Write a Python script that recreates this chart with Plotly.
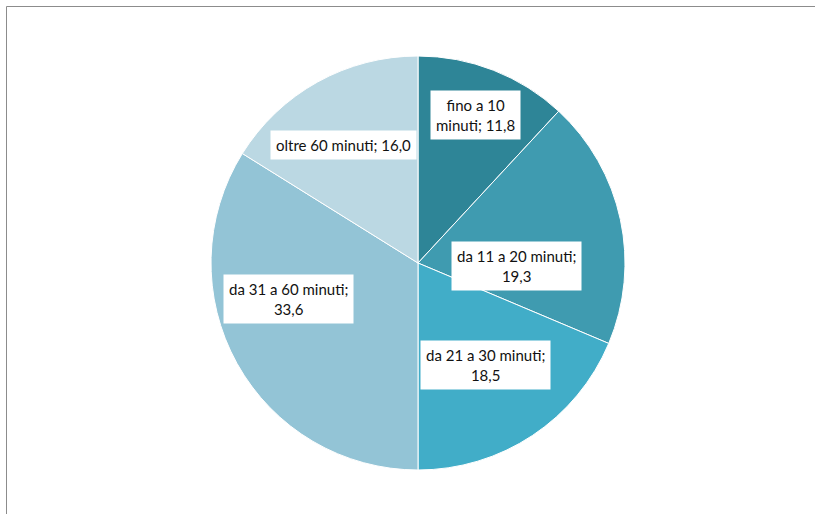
import math
import plotly.graph_objects as go

# Commuting time shares (%)
categories = ["fino a 10 minuti", "da 11 a 20 minuti", "da 21 a 30 minuti",
              "da 31 a 60 minuti", "oltre 60 minuti"]
values = [11.8, 19.3, 18.5, 33.6, 16.0]
label_texts = ["fino a 10<br>minuti; 11,8", "da 11 a 20 minuti;<br>19,3",
               "da 21 a 30 minuti;<br>18,5", "da 31 a 60 minuti;<br>33,6",
               "oltre 60 minuti; 16,0"]

colors = ["#2e8597", "#3f9bb0", "#41adc8", "#93c4d6", "#bbd8e3"]
# label placement: fraction of radius and angular nudge from slice mid-angle (deg)
label_radius = [0.766, 0.474, 0.592, 0.648, 0.677]
label_nudge = [0.0, 13.7, 0.0, 13.6, -3.3]

W, H = 815, 514
cx, cy, R = 418, 263, 207  # pie centre and radius in px

fig = go.Figure(go.Pie(
    labels=categories, values=values, sort=False, direction="clockwise",
    rotation=0, textinfo="none", hoverinfo="label+value",
    marker=dict(colors=colors, line=dict(color="white", width=1)),
    domain=dict(x=[(cx - R) / W, (cx + R) / W],
                y=[(H - cy - R) / H, (H - cy + R) / H]),
    showlegend=False,
))

total = sum(values)
cum = 0.0
annotations = []
for v, txt, rf, nudge in zip(values, label_texts, label_radius, label_nudge):
    mid = (cum + v / 2) / total * 360 + nudge
    cum += v
    a = math.radians(mid)
    px = cx + rf * R * math.sin(a)
    py = cy - rf * R * math.cos(a)
    annotations.append(dict(
        x=px / W, y=1 - py / H, xref="paper", yref="paper", text=txt,
        xanchor="center", yanchor="middle",
        showarrow=False, bgcolor="white", borderpad=5,
        font=dict(family="Lato", size=15, color="#111111"), align="center",
    ))

fig.update_layout(
    width=W, height=H, margin=dict(l=0, r=0, t=0, b=0),
    paper_bgcolor="white", plot_bgcolor="white",
    annotations=annotations,
    shapes=[dict(type="rect", xref="paper", yref="paper",
                 x0=6.5 / W, x1=1.05, y0=-0.05, y1=1 - 6.5 / H,
                 line=dict(color="#8c8c8c", width=1), layer="below")],
)

fig.write_html("out.html")
